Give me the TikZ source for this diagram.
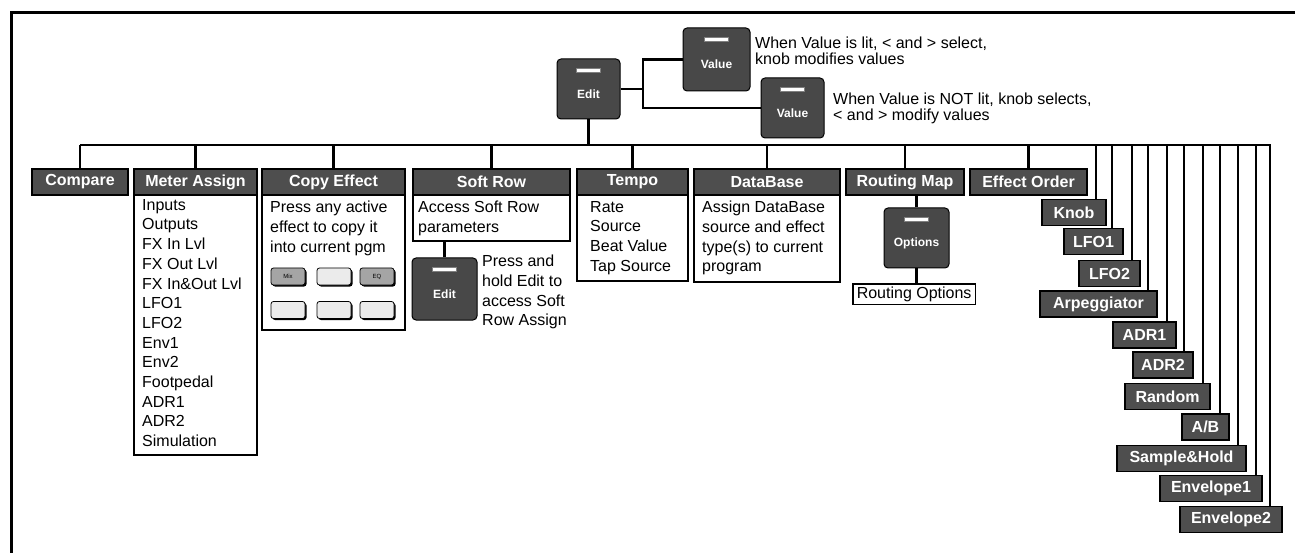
\documentclass[tikz,border=0pt]{standalone}
\usepackage{fontspec}
\setmainfont{Liberation Sans}
\usetikzlibrary{shadows}
\definecolor{hdrgray}{RGB}{78,78,78}
\definecolor{btngray}{RGB}{72,72,72}
\definecolor{minidark}{RGB}{165,165,165}
\definecolor{minilight}{RGB}{235,235,235}
\tikzset{
  wire/.style={line width=2.5pt, draw=black},
  hdr/.style={draw=black, line width=1.3pt, fill=hdrgray, text=white,
    font=\bfseries\fontsize{16}{18}\selectfont, inner sep=0pt, minimum height=26pt},
  body/.style={draw=black, line width=1.8pt, fill=white, inner sep=0pt},
  btxt/.style={anchor=north west, inner sep=0pt, align=left, font=\fontsize{16}{19.7}\selectfont},
  dtxt/.style={anchor=north west, inner sep=0pt, align=left, font=\fontsize{16}{15.5}\selectfont},
  btn/.style={draw=black, line width=1pt, fill=btngray, rounded corners=4pt, inner sep=0pt},
  btnlbl/.style={text=white, font=\bfseries\fontsize{12}{14}\selectfont, inner sep=0pt},
  bar/.style={fill=white, draw=gray, line width=0.6pt},
  mini/.style={draw=black, line width=0.8pt, rounded corners=2.5pt, minimum width=34pt,
    minimum height=17pt, inner sep=0pt, font=\fontsize{6}{7}\selectfont,
    drop shadow={shadow xshift=1.5pt, shadow yshift=-1.5pt, fill=black, opacity=1}},
}
\newcommand\mybtnface[2]{%
  \draw[bar] ([xshift=-12pt,yshift=-10pt]#1.north) rectangle ([xshift=12pt,yshift=-14pt]#1.north);
  \node[btnlbl] (#1-l) at ([yshift=-5pt]#1.center) {#2};}
\begin{document}
\begin{tikzpicture}[x=1pt,y=-1pt]
\useasboundingbox (0,0) rectangle (1295,553);
\draw[line width=3pt] (11,553) -- (11,12.5) -- (1295,12.5);

% ---- top buttons
\node[btn, minimum width=63pt, minimum height=60pt] (edit) at (588.5,89) {};
\node[btn, minimum width=67pt, minimum height=63pt] (val1) at (716.5,59.5) {};
\node[btn, minimum width=63pt, minimum height=60pt] (val2) at (792.5,108) {};
\mybtnface{edit}{Edit}
\mybtnface{val1}{Value}
\mybtnface{val2}{Value}
\node[dtxt] (d1) at (755,37) {When Value is lit, < and > select,\\knob modifies values};
\node[dtxt] (d2) at (833,93) {When Value is NOT lit, knob selects,\\< and > modify values};
\coordinate (jx) at (643,0);
\coordinate (jn) at (edit.east -| jx);
\draw[wire] (edit.east) -- (jn);
\draw[wire] (val1.west) -| (jn) |- (val2.west);

% ---- bus
\coordinate (busL) at (80,145);
\coordinate (busR) at (1271,145);
\draw[wire] (busL) -- (busR);
\draw[wire] (edit.south) -- (edit.south |- busL);

% ---- bodies
\node[body, minimum width=123pt, minimum height=260pt] (meterB) at (195.5,325) {};
\node[body, minimum width=143pt, minimum height=135pt] (copyB) at (333.5,262.5) {};
\node[body, minimum width=157pt, minimum height=46pt] (softB) at (491.5,218) {};
\node[body, minimum width=111pt, minimum height=86pt] (tempoB) at (632.5,238) {};
\node[body, minimum width=146pt, minimum height=87pt] (dbB) at (767,238.5) {};

% ---- headers
\node[hdr, minimum width=96pt]  (cmp)   at (80,182)    {Compare};
\node[hdr, minimum width=123pt] (meter) at (195.5,182) {Meter Assign};
\node[hdr, minimum width=143pt] (copy)  at (333.5,182) {Copy Effect};
\node[hdr, minimum width=157pt] (soft)  at (491.5,182) {Soft Row};
\node[hdr, minimum width=111pt] (tempo) at (632.5,182) {Tempo};
\node[hdr, minimum width=146pt] (db)    at (767,182)   {DataBase};
\node[hdr, minimum width=118pt] (rmap)  at (905,182)   {Routing Map};
\node[hdr, minimum width=117pt] (eord)  at (1028.5,182) {Effect Order};
\foreach \n in {cmp,meter,copy,soft,tempo,db,rmap,eord}{
  \draw[wire] (\n.north) -- (\n.north |- busL);
}

% ---- body texts
\node[btxt] (meterT) at (142,199) {Inputs\\Outputs\\FX In Lvl\\FX Out Lvl\\FX In\&Out Lvl\\LFO1\\LFO2\\Env1\\Env2\\Footpedal\\ADR1\\ADR2\\Simulation};
\node[btxt] (copyT) at (270,201) {Press any active\\effect to copy it\\into current pgm};
\node[btxt] (softT) at (418,201) {Access Soft Row\\parameters};
\node[btxt] (tempoT) at (590,201) {Rate\\Source\\Beat Value\\Tap Source};
\node[btxt] (dbT) at (702,201) {Assign DataBase\\source and effect\\type(s) to current\\program};

% ---- copy effect mini buttons
\node[mini, fill=minidark]  (m1) at (288,276.5) {Mix};
\node[mini, fill=minilight] (m2) at (334,276.5) {};
\node[mini, fill=minidark]  (m3) at (377,276.5) {EQ};
\node[mini, fill=minilight] (m4) at (288,310) {};
\node[mini, fill=minilight] (m5) at (334,310) {};
\node[mini, fill=minilight] (m6) at (377,310) {};

% ---- soft row edit
\node[btn, minimum width=65pt, minimum height=62pt] (sedit) at (444.5,289) {};
\mybtnface{sedit}{Edit}
\draw[wire] (sedit.north) -- (sedit.north |- softB.south);
\node[btxt] (seditT) at (482,255) {Press and\\hold Edit to\\access Soft\\Row Assign};

% ---- routing map options
\node[btn, minimum width=65pt, minimum height=60pt] (opt) at (916.5,238) {};
\mybtnface{opt}{Options}
\draw[wire] (opt.north) -- (opt.north |- rmap.south);
\node[body, line width=1.5pt, anchor=north west, inner xsep=4pt, inner ysep=3pt,
  font=\fontsize{16}{18}\selectfont] (ropt) at (852,283) {Routing Options};
\draw[wire] (opt.south) -- (opt.south |- ropt.north);

% ---- effect order sources
\node[hdr, minimum width=64pt]  (knob) at (1074,212.5)   {Knob};
\node[hdr, minimum width=59pt]  (lfoa) at (1093.5,241.5) {LFO1};
\node[hdr, minimum width=61pt]  (lfob) at (1109.5,273.5) {LFO2};
\node[hdr, minimum width=117pt] (arp)  at (1098.5,304)   {Arpeggiator};
\node[hdr, minimum width=63pt]  (adra) at (1144.5,335)   {ADR1};
\node[hdr, minimum width=60pt]  (adrb) at (1163,365)     {ADR2};
\node[hdr, minimum width=85pt]  (rnd)  at (1167.5,396.5) {Random};
\node[hdr, minimum width=47pt]  (ab)   at (1205.5,427)   {A/B};
\node[hdr, minimum width=129pt] (sh)   at (1181.5,458.5) {Sample\&Hold};
\node[hdr, minimum width=102pt] (enva) at (1211,488.5)   {Envelope1};
\node[hdr, minimum width=102pt] (envb) at (1231,519.5)   {Envelope2};
\foreach \nm/\lx in {knob/1096,lfoa/1112,lfob/1132,arp/1148,adra/1167,adrb/1184,rnd/1203,ab/1220,sh/1238,enva/1256,envb/1270}{
  \coordinate (t\nm) at (\lx,145);
  \draw[wire] (t\nm) -- (t\nm |- \nm.north);
}
\end{tikzpicture}
\end{document}
